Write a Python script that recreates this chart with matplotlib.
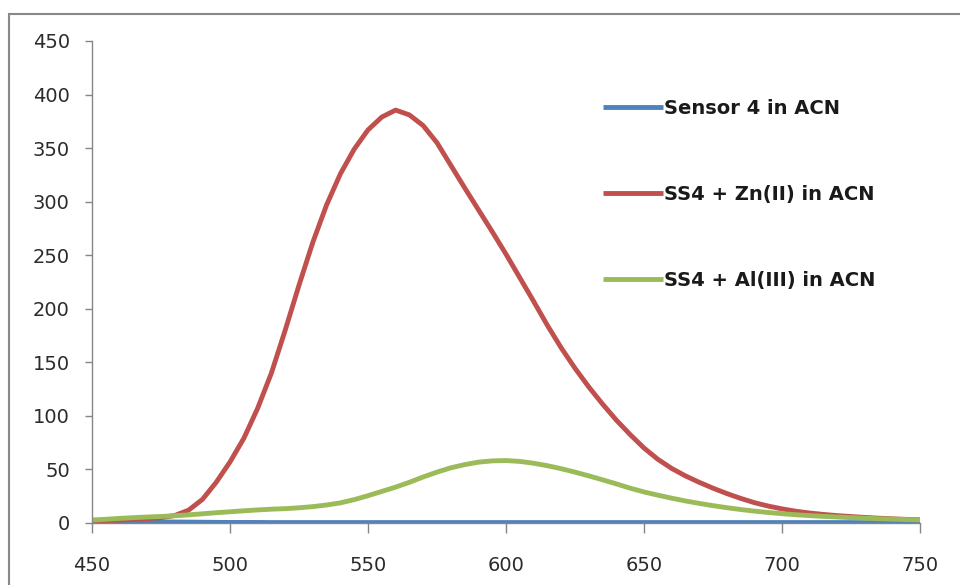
import numpy as np
import matplotlib
matplotlib.use("Agg")
import matplotlib.pyplot as plt
from matplotlib.patches import Rectangle

# Emission spectra, wavelength in nm (5 nm steps)
wavelength = list(range(450, 751, 5))

sensor4 = [1.5, 1.4, 1.3, 1.2, 1.1, 1.0, 0.9, 0.8, 0.7, 0.6, 0.5, 0.5, 0.5, 0.4, 0.4,
           0.4, 0.4, 0.4, 0.4, 0.4, 0.4, 0.4, 0.4, 0.4, 0.4, 0.4, 0.4, 0.4, 0.4, 0.4,
           0.4, 0.4, 0.4, 0.4, 0.4, 0.4, 0.4, 0.4, 0.4, 0.4, 0.4, 0.4, 0.4, 0.4, 0.4,
           0.4, 0.4, 0.4, 0.4, 0.4, 0.4, 0.4, 0.4, 0.4, 0.4, 0.4, 0.4, 0.4, 0.4, 0.4,
           0.4]

zn = [1.5, 2, 2.6, 3.3, 4.1, 5, 7, 12, 22, 38, 57, 79, 107, 140, 180,
      222, 262, 297, 326, 349, 367, 379, 385.5, 381, 371, 355, 334, 313, 292.5, 272,
      251, 229, 207, 184.5, 163.5, 144.5, 127, 111, 96, 82.5, 70, 59.5, 51, 44, 38,
      32.5, 27.5, 23, 19, 15.8, 13.2, 11, 9.3, 8, 6.9, 6, 5.2, 4.5, 3.9, 3.4,
      3]

al = [2.8, 3.5, 4.3, 5, 5.6, 6.1, 6.8, 7.6, 8.6, 9.6, 10.5, 11.4, 12.2, 12.9, 13.4,
      14.2, 15.3, 16.8, 18.8, 21.8, 25.5, 29.5, 33.5, 38, 43, 47.5, 51.5, 54.5, 56.8, 58,
      58.3, 57.5, 55.8, 53.5, 50.7, 47.5, 44, 40.3, 36.5, 32.5, 29, 26, 23.2, 20.6, 18.3,
      16.2, 14.3, 12.6, 11.1, 9.8, 8.7, 7.7, 6.9, 6.2, 5.6, 5, 4.5, 4, 3.6, 3.2,
      2.9]

labels = ["Sensor 4 in ACN", "SS4 + Zn(II) in ACN", "SS4 + Al(III) in ACN"]
colors = ["#4F81BD", "#C0504D", "#9BBB59"]

x_ticks = [450, 500, 550, 600, 650, 700, 750]
y_ticks = [0, 50, 100, 150, 200, 250, 300, 350, 400, 450]

fig = plt.figure(figsize=(9.6, 5.85), dpi=100)
ax = fig.add_axes([92 / 960, 1 - 523 / 585, 828 / 960, 482 / 585])

for ys, lab, col in zip([sensor4, zn, al], labels, colors):
    ax.plot(wavelength, ys, color=col, lw=3.5, label=lab,
            solid_capstyle="butt", solid_joinstyle="round")

ax.set_xlim(450, 750)
ax.set_ylim(0, 450)
ax.set_xticks(x_ticks)
ax.set_yticks(y_ticks)

axis_col = "#868686"
for side in ("top", "right"):
    ax.spines[side].set_visible(False)
for side in ("left", "bottom"):
    ax.spines[side].set_color(axis_col)
    ax.spines[side].set_linewidth(1.0)

ax.tick_params(axis="y", direction="out", length=5, width=1.0, color=axis_col,
               labelsize=14, labelcolor="#2b2b2b", pad=11)
ax.tick_params(axis="x", direction="out", length=7, width=1.0, color=axis_col,
               labelsize=14, labelcolor="#2b2b2b", pad=17)

leg = ax.legend(loc="upper left", bbox_to_anchor=(603 / 960, 1 - 99 / 585),
                bbox_transform=fig.transFigure, frameon=False,
                prop={"weight": "bold", "size": 14},
                handlelength=3.1, handletextpad=0.05, labelspacing=3.45,
                borderaxespad=0, borderpad=0)
for txt in leg.get_texts():
    txt.set_color("#1a1a1a")

# Chart area outline
fig.patches.append(Rectangle((8.5 / 960, -0.2), 1.2, 1 - 13.5 / 585 + 0.2,
                             transform=fig.transFigure, fill=False,
                             edgecolor="#888888", lw=1.5, zorder=0))

fig.savefig("out.png", dpi=100)
